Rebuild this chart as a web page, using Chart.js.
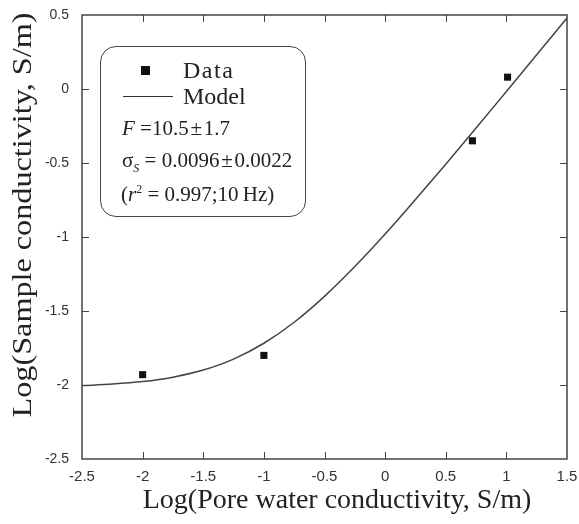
<!DOCTYPE html>
<html><head><meta charset="utf-8">
<script src="https://cdn.jsdelivr.net/npm/chart.js@4.4.1/dist/chart.umd.min.js"></script>
<style>
html,body{margin:0;padding:0;background:#fff;}
#wrap{position:relative;width:579px;height:524px;}
#legend{position:absolute;left:100px;top:46px;width:206px;height:171px;border:1.5px solid #444;border-radius:16px;box-sizing:border-box;font-family:"Liberation Serif","Times New Roman",serif;color:#222;}
#legend .t{position:absolute;white-space:nowrap;line-height:1;}
</style></head>
<body><div id="wrap"><canvas id="c" width="579" height="524"></canvas>
<div id="legend">
 <div class="t" style="left:40px;top:19px;width:9px;height:9px;background:#111;"></div>
 <div class="t" style="left:82px;top:11px;font-size:24px;letter-spacing:1.5px;">Data</div>
 <div class="t" style="left:22px;top:49px;width:50px;height:0;border-top:1.6px solid #333;"></div>
 <div class="t" style="left:82px;top:37px;font-size:24px;">Model</div>
 <div class="t" style="left:21px;top:71px;font-size:21px;"><i>F</i> =10.5&#8202;&plusmn;&#8202;1.7</div>
 <div class="t" style="left:21px;top:103px;font-size:21px;">&sigma;<sub style="font-size:12px;"><i>S</i></sub> = 0.0096&#8202;&plusmn;&#8202;0.0022</div>
 <div class="t" style="left:20px;top:136px;font-size:21px;">(<i>r</i><sup style="font-size:12px;">2</sup> = 0.997;10&thinsp;Hz)</div>
</div>
</div>
<script>
const dataX = [-2, -1, 0.72, 1.01];
const dataY = [-1.93, -1.80, -0.35, 0.08];
const modelX = [-2.5,-2.25,-2,-1.75,-1.5,-1.25,-1,-0.75,-0.5,-0.25,0,0.25,0.5,0.75,1,1.25,1.5];
const modelY = [-2.004,-1.994,-1.977,-1.947,-1.899,-1.825,-1.718,-1.576,-1.401,-1.200,-0.980,-0.747,-0.508,-0.264,-0.017,0.231,0.480];
const xTicks = [-2.5,-2,-1.5,-1,-0.5,0,0.5,1,1.5];
const yTicks = [0.5,0,-0.5,-1,-1.5,-2,-2.5];
const xTitle = "Log(Pore water conductivity, S/m)";
const yTitle = "Log(Sample conductivity, S/m)";

const frame = {
  id:'frame',
  afterDatasetsDraw(chart){
    const {ctx, chartArea:a, scales:{x,y}} = chart;
    ctx.save();
    ctx.strokeStyle='#444'; ctx.lineWidth=1.5;
    ctx.strokeRect(a.left,a.top,a.right-a.left,a.bottom-a.top);
    ctx.lineWidth=1;
    const L=7;
    ctx.beginPath();
    xTicks.slice(1,-1).forEach(v=>{const p=Math.round(x.getPixelForValue(v))+0.5;
      ctx.moveTo(p,a.bottom);ctx.lineTo(p,a.bottom-L);ctx.moveTo(p,a.top);ctx.lineTo(p,a.top+L);});
    yTicks.slice(1,-1).forEach(v=>{const p=Math.round(y.getPixelForValue(v))+0.5;
      ctx.moveTo(a.left,p);ctx.lineTo(a.left+L,p);ctx.moveTo(a.right,p);ctx.lineTo(a.right-L,p);});
    ctx.stroke();
    // axis titles
    ctx.fillStyle='#222';
    ctx.font='28px "Liberation Serif","Times New Roman",serif';
    ctx.textAlign='center'; ctx.textBaseline='middle';
    ctx.fillText(xTitle, 337, 501);
    ctx.translate(24, 215);
    ctx.rotate(-Math.PI/2);
    ctx.scale(1.15, 1);
    ctx.fillText(yTitle, 0, 0);
    ctx.restore();
  }
};

new Chart(document.getElementById('c'),{
  type:'scatter',
  data:{datasets:[
    {label:'Model',type:'line',data:modelX.map((v,i)=>({x:v,y:modelY[i]})),borderColor:'#444',borderWidth:1.5,pointRadius:0,cubicInterpolationMode:'monotone',fill:false},
    {label:'Data',data:dataX.map((v,i)=>({x:v,y:dataY[i]})),pointStyle:'rect',pointRadius:5,backgroundColor:'#111',borderColor:'#111',borderWidth:0}
  ]},
  options:{
    responsive:false,animation:false,
    layout:{padding:{top:15,right:12,left:0,bottom:0}},
    plugins:{legend:{display:false},tooltip:{enabled:false}},
    scales:{
      x:{type:'linear',min:-2.5,max:1.5,
        afterBuildTicks(s){s.ticks=xTicks.map(v=>({value:v}));},
        afterFit(s){s.height=65;s.paddingLeft=0;s.paddingRight=0;},
        grid:{display:false,drawTicks:false},border:{display:false},
        ticks:{padding:9,color:'#333',font:{family:'"Liberation Sans",Arial,sans-serif',size:15},maxRotation:0,callback:v=>String(v)},
        title:{display:false,text:xTitle}
      },
      y:{type:'linear',min:-2.5,max:0.5,
        afterBuildTicks(s){s.ticks=yTicks.map(v=>({value:v}));},
        afterFit(s){s.width=82;s.paddingTop=0;s.paddingBottom=0;},
        grid:{display:false,drawTicks:false},border:{display:false},
        ticks:{padding:13,color:'#333',font:{family:'"Liberation Sans",Arial,sans-serif',size:14},callback:v=>String(v)},
        title:{display:false,text:yTitle}
      }
    }
  },
  plugins:[frame]
});
</script></body></html>
